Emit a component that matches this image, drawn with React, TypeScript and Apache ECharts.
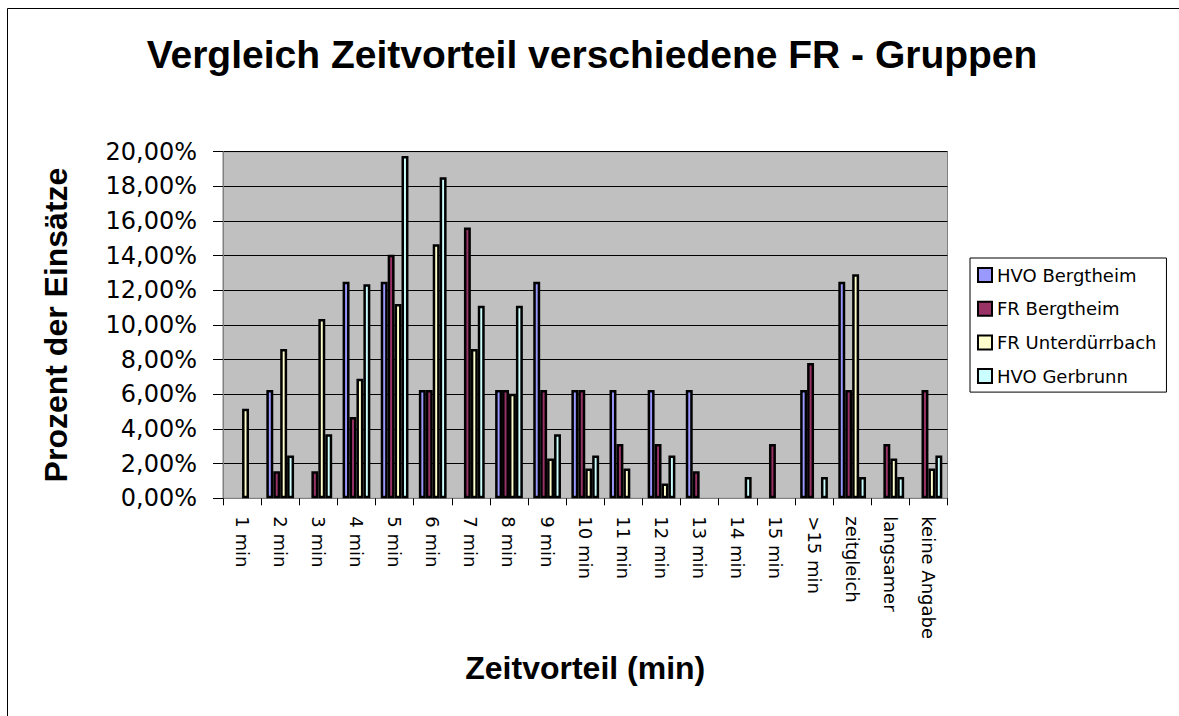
import React, { useEffect, useRef } from "react";
import * as echarts from "echarts";

const categories = [
  "1 min", "2 min", "3 min", "4 min", "5 min", "6 min", "7 min", "8 min",
  "9 min", "10 min", "11 min", "12 min", "13 min", "14 min", "15 min",
  ">15 min", "zeitgleich", "langsamer", "keine Angabe",
];

const seriesNames = ["HVO Bergtheim", "FR Bergtheim", "FR Unterdürrbach", "HVO Gerbrunn"];

const hvoBergtheim = [0, 6.25, 0, 12.5, 12.5, 6.25, 0, 6.25, 12.5, 6.25, 6.25, 6.25, 6.25, 0, 0, 6.25, 12.5, 0, 0];
const frBergtheim = [0, 1.56, 1.56, 4.69, 14.06, 6.25, 15.63, 6.25, 6.25, 6.25, 3.13, 3.13, 1.56, 0, 3.13, 7.81, 6.25, 3.13, 6.25];
const frUnterduerrbach = [5.17, 8.62, 10.34, 6.9, 11.21, 14.66, 8.62, 6.03, 2.3, 1.72, 1.72, 0.86, 0, 0, 0, 0, 12.93, 2.3, 1.72];
const hvoGerbrunn = [0, 2.47, 3.7, 12.35, 19.75, 18.52, 11.11, 11.11, 3.7, 2.47, 0, 2.47, 0, 1.23, 0, 1.23, 1.23, 1.23, 2.47];

const yTicks = { min: 0, max: 20, interval: 2 };

const colors = ["#9999FF", "#993366", "#FFFFCC", "#CCFFFF"];

export default function App() {
  const ref = useRef<HTMLDivElement>(null);

  useEffect(() => {
    if (!ref.current) return;
    const chart = echarts.init(ref.current, null, { renderer: "svg" });
    const allData = [hvoBergtheim, frBergtheim, frUnterduerrbach, hvoGerbrunn];
    const option: any = {
      animation: false,
      backgroundColor: "#FFFFFF",
      textStyle: { fontFamily: "'Liberation Sans', Arial, sans-serif", color: "#000" },
      title: {
        text: "Vergleich Zeitvorteil verschiedene FR - Gruppen",
        left: 592,
        textAlign: "center",
        top: 35,
        padding: 0,
        textStyle: {
          fontFamily: "'Liberation Sans', Arial, sans-serif",
          fontWeight: "bold",
          fontSize: 39,
          color: "#000",
        },
      },
      graphic: [
        {
          type: "rect",
          silent: true,
          shape: { x: 7.5, y: 8.5, width: 1300, height: 900 },
          style: { fill: "none", stroke: "#000", lineWidth: 1 },
        },
      ],
      legend: {
        orient: "vertical",
        left: 970,
        top: 258,
        padding: [8, 10, 7, 7],
        itemGap: 15.7,
        itemWidth: 14,
        itemHeight: 14,
        icon: "rect",
        borderColor: "#000",
        borderWidth: 1,
        backgroundColor: "#FFFFFF",
        data: seriesNames,
        itemStyle: { borderColor: "#000", borderWidth: 2 },
        textStyle: {
          fontFamily: "'DejaVu Sans', sans-serif",
          fontSize: 18,
          color: "#000",
        },
      },
      grid: {
        left: 223,
        right: 231.5,
        top: 151.7,
        bottom: 217.7,
        show: true,
        backgroundColor: "#C0C0C0",
        borderColor: "#808080",
        borderWidth: 1,
        containLabel: false,
        outerBoundsMode: "none",
      },
      xAxis: {
        type: "category",
        data: categories,
        name: "Zeitvorteil (min)",
        nameLocation: "middle",
        nameGap: 154,
        nameTextStyle: {
          fontFamily: "'Liberation Sans', Arial, sans-serif",
          fontWeight: "bold",
          fontSize: 32,
          color: "#000",
        },
        axisLine: { show: true, lineStyle: { color: "#808080", width: 1 } },
        axisTick: { show: true, alignWithLabel: false, length: 7, lineStyle: { color: "#000" } },
        axisLabel: {
          interval: 0,
          rotate: -90,
          margin: 18,
          fontFamily: "'DejaVu Sans', sans-serif",
          fontSize: 18,
          color: "#000",
        },
        splitLine: { show: false },
      },
      yAxis: {
        type: "value",
        min: yTicks.min,
        max: yTicks.max,
        interval: yTicks.interval,
        name: "Prozent der Einsätze",
        nameLocation: "middle",
        nameRotate: 90,
        nameGap: 151,
        nameTextStyle: {
          fontFamily: "'Liberation Sans', Arial, sans-serif",
          fontWeight: "bold",
          fontSize: 32,
          color: "#000",
        },
        axisLine: { show: true, lineStyle: { color: "#808080", width: 1 } },
        axisTick: { show: true, length: 10, lineStyle: { color: "#000" } },
        axisLabel: {
          margin: 26,
          fontFamily: "'DejaVu Sans', sans-serif",
          fontSize: 24,
          color: "#000",
          formatter: (v: number) => v.toFixed(2).replace(".", ",") + "%",
        },
        splitLine: { show: true, lineStyle: { color: "#000", width: 1 } },
      },
      series: seriesNames.map((name, i) => ({
        name,
        type: "bar",
        barGap: "0%",
        barCategoryGap: "27.3%",
        data: allData[i].map((v) => (v === 0 ? null : v)),
        itemStyle: { color: colors[i], borderColor: "#000", borderWidth: 2.5 },
      })),
    };
    chart.setOption(option);
    return () => chart.dispose();
  }, []);

  return (
    <div
      ref={ref}
      style={{ position: "fixed", left: 0, top: 0, width: 1179, height: 716, background: "#fff" }}
    />
  );
}
